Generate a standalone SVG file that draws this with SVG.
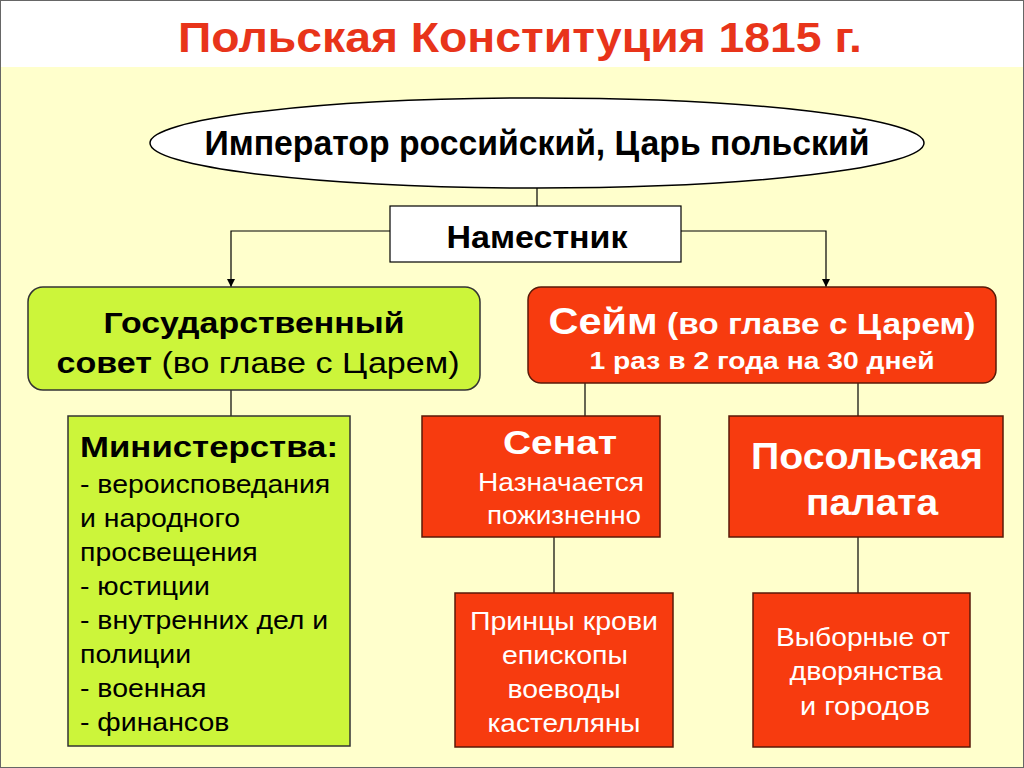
<svg xmlns="http://www.w3.org/2000/svg" width="1024" height="768" viewBox="0 0 1024 768">
<defs>
<marker id="arr" viewBox="0 0 10 10" refX="10" refY="5" markerWidth="8" markerHeight="8" markerUnits="userSpaceOnUse" orient="auto">
<path d="M0,0 L10,5 L0,10 z" fill="#000"/>
</marker>
<style>
text{font-family:"Liberation Sans",Arial,sans-serif}
.b{font-weight:bold}
.red{fill:#F73B0F;stroke:#5a1a08;stroke-width:1.5}
.grn{fill:#CCF53A;stroke:#333;stroke-width:1.5}
.w{fill:#fff}
.k{fill:#000}
.c{text-anchor:middle}
.ln{stroke:#000;stroke-width:1.2;fill:none}
</style>
</defs>
<rect x="0" y="0" width="1024" height="768" fill="#fff"/>
<rect x="0" y="67" width="1024" height="701" fill="#FFFFCC"/>
<rect x="0.5" y="0.5" width="1023" height="767" fill="none" stroke="#666" stroke-width="1"/>
<text x="520" y="52" class="b c" font-size="43" fill="#E8341A" textLength="684" lengthAdjust="spacingAndGlyphs">Польская Конституция 1815 г.</text>

<g id="connectors">
<line class="ln" x1="537" y1="188" x2="537" y2="206"/>
<path class="ln" d="M390,231 H231 V287" marker-end="url(#arr)"/>
<path class="ln" d="M681,231 H826 V287" marker-end="url(#arr)"/>
<line class="ln" x1="231" y1="390" x2="231" y2="416"/>
<line class="ln" x1="585" y1="383" x2="585" y2="416"/>
<line class="ln" x1="858" y1="383" x2="858" y2="416"/>
<line class="ln" x1="554" y1="537" x2="554" y2="593"/>
<line class="ln" x1="858" y1="537" x2="858" y2="593"/>
</g>

<g id="emperor">
<ellipse cx="537" cy="143" rx="387" ry="45" fill="#fff" stroke="#000" stroke-width="1.5"/>
<text x="537" y="155" class="b c k" font-size="35" textLength="665" lengthAdjust="spacingAndGlyphs">Император российский, Царь польский</text>
</g>

<g id="namestnik">
<rect x="390" y="206" width="291" height="56" fill="#fff" stroke="#000" stroke-width="1.2"/>
<text x="537" y="248" class="b c k" font-size="31" textLength="181" lengthAdjust="spacingAndGlyphs">Наместник</text>
</g>

<g id="gossovet">
<rect x="28" y="287" width="452" height="103" rx="15" class="grn"/>
<text x="254" y="333" class="b c k" font-size="30" textLength="301" lengthAdjust="spacingAndGlyphs">Государственный</text>
<text x="258" y="373" class="c k" font-size="30" textLength="403" lengthAdjust="spacingAndGlyphs"><tspan class="b">совет</tspan> (во главе с Царем)</text>
</g>

<g id="seim">
<rect x="528" y="287" width="468" height="96" rx="13" class="red"/>
<text x="762" y="334" class="b c w" font-size="29" textLength="427" lengthAdjust="spacingAndGlyphs"><tspan font-size="36">Сейм</tspan> (во главе с Царем)</text>
<text x="762" y="369" class="b c w" font-size="23" textLength="345" lengthAdjust="spacingAndGlyphs">1 раз в 2 года на 30 дней</text>
</g>

<g id="ministries">
<rect x="68" y="416" width="282" height="330" class="grn" stroke="#222"/>
<text x="80" y="457" class="b k" font-size="30" textLength="258" lengthAdjust="spacingAndGlyphs">Министерства:</text>
<g class="k" font-size="26" transform="translate(80,0) scale(1.094,1)">
<text x="0" y="493">- вероисповедания</text>
<text x="0" y="527">и народного</text>
<text x="0" y="561">просвещения</text>
<text x="0" y="595">- юстиции</text>
<text x="0" y="629">- внутренних дел и</text>
<text x="0" y="663">полиции</text>
<text x="0" y="697">- военная</text>
<text x="0" y="731">- финансов</text>
</g>
</g>

<g id="senat">
<rect x="422" y="416" width="238" height="121" class="red"/>
<text x="560" y="454" class="b c w" font-size="33" textLength="114" lengthAdjust="spacingAndGlyphs">Сенат</text>
<text x="561" y="491" class="c w" font-size="25" textLength="166" lengthAdjust="spacingAndGlyphs">Назначается</text>
<text x="564" y="524" class="c w" font-size="25" textLength="154" lengthAdjust="spacingAndGlyphs">пожизненно</text>
</g>

<g id="posolskaya">
<rect x="729" y="416" width="274" height="121" class="red"/>
<text x="867" y="469" class="b c w" font-size="37" textLength="232" lengthAdjust="spacingAndGlyphs">Посольская</text>
<text x="872" y="515" class="b c w" font-size="37" textLength="132" lengthAdjust="spacingAndGlyphs">палата</text>
</g>

<g id="princes">
<rect x="455" y="593" width="218" height="154" class="red"/>
<text x="564" y="630" class="c w" font-size="26" textLength="188" lengthAdjust="spacingAndGlyphs">Принцы крови</text>
<text x="565" y="664" class="c w" font-size="26" textLength="126" lengthAdjust="spacingAndGlyphs">епископы</text>
<text x="564" y="698" class="c w" font-size="26" textLength="113" lengthAdjust="spacingAndGlyphs">воеводы</text>
<text x="564" y="732" class="c w" font-size="26" textLength="153" lengthAdjust="spacingAndGlyphs">кастелляны</text>
</g>

<g id="vybornye">
<rect x="753" y="593" width="217" height="154" class="red"/>
<text x="863" y="646" class="c w" font-size="26" textLength="174" lengthAdjust="spacingAndGlyphs">Выборные от</text>
<text x="866" y="680" class="c w" font-size="26" textLength="153" lengthAdjust="spacingAndGlyphs">дворянства</text>
<text x="865" y="715" class="c w" font-size="26" textLength="130" lengthAdjust="spacingAndGlyphs">и городов</text>
</g>
</svg>
